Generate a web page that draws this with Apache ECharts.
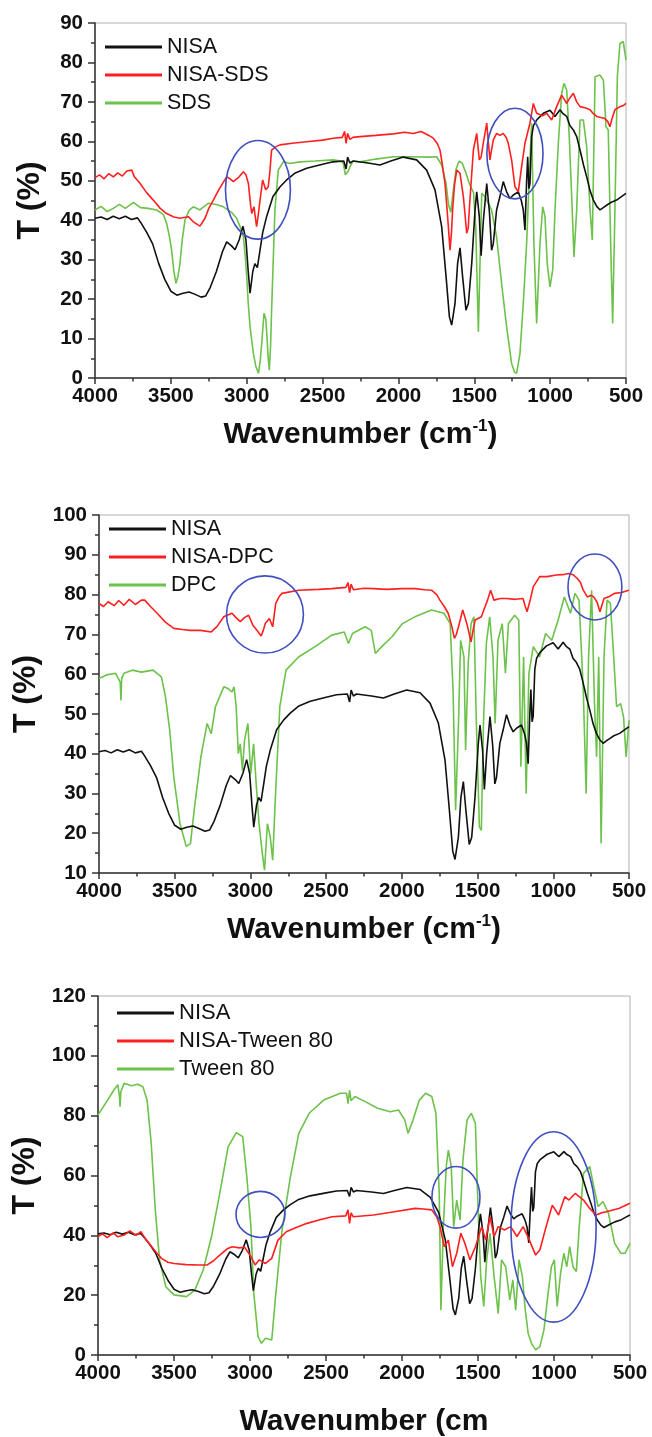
<!DOCTYPE html>
<html>
<head>
<meta charset="utf-8">
<script src="https://cdn.jsdelivr.net/npm/echarts@6/dist/echarts.min.js"></script>
<style>
html,body{margin:0;padding:0;background:#fff;}
#c{width:652px;height:1437px;}
</style>
</head>
<body>
<div id="c"></div>
<script>
// ---------------- DATA (wavenumber cm-1, transmittance %) ----------------
var nisa = [[4000,40.5],[3960,40.8],[3920,40.2],[3880,41],[3840,40.4],[3800,41],[3760,40.2],[3720,40.6],[3700,39.5],[3660,37],[3620,34],[3580,29],[3540,25],[3500,22],[3460,21],[3420,21.5],[3380,21.8],[3340,21.2],[3300,20.5],[3270,20.8],[3240,23],[3200,27],[3160,32],[3132,34.5],[3100,33.5],[3077,32.5],[3050,35],[3025,38.5],[3005,35],[2990,27],[2978,21.5],[2960,27],[2946,29],[2930,28],[2910,33],[2895,36.8],[2869,40.9],[2827,46],[2780,48.5],[2737,50.2],[2680,52],[2605,53.2],[2500,54.2],[2431,54.8],[2360,55],[2345,53],[2335,56],[2320,54.5],[2300,55],[2200,54.5],[2122,54],[2050,55],[1968,56],[1880,55.3],[1814,52.7],[1759,47.7],[1715,38.4],[1686,25.7],[1664,15.5],[1649,13.4],[1627,18.9],[1610,29],[1594,33],[1577,25.7],[1555,17.2],[1539,18.9],[1517,29],[1495,42.6],[1484,47.2],[1467,40.9],[1455,31],[1440,40],[1418,49.3],[1400,42],[1386,32.4],[1375,34],[1353,42.6],[1331,46],[1309,49.8],[1287,47.2],[1265,45.5],[1243,46.4],[1210,47.2],[1190,45],[1177,42.6],[1166,37.5],[1155,50],[1148,56.1],[1140,48],[1133,49.3],[1122,61.2],[1110,64],[1089,65.4],[1045,67.1],[1001,67.9],[968,66.3],[935,68],[915,67],[891,66.3],[870,64],[847,62.9],[825,61.2],[803,57.8],[780,54],[759,51],[737,47.5],[715,45.1],[693,43.5],[671,42.6],[650,43.2],[628,43.8],[600,44.5],[562,45.1],[530,46],[500,46.8]];

var nisaSds = [[4000,50.8],[3970,51.5],[3940,50.5],[3910,51.8],[3879,51],[3850,52],[3820,51.2],[3790,52.5],[3758,52.7],[3740,51],[3703,49.3],[3660,47],[3616,45.1],[3570,43],[3528,41.7],[3480,40.8],[3440,40.5],[3385,40.9],[3352,39.6],[3308,38.5],[3275,40.5],[3250,43],[3220,45.1],[3180,48],[3132,51],[3110,50.5],[3088,49.8],[3050,51],[3022,52.3],[3005,51.5],[2989,49.3],[2975,44],[2967,41.7],[2952,43.4],[2935,38.4],[2925,41],[2912,45.1],[2895,50.2],[2875,47.7],[2858,48.5],[2848,52],[2836,57.8],[2810,58.6],[2781,59.1],[2700,59.5],[2605,59.9],[2500,60.3],[2429,60.8],[2370,61],[2355,62.5],[2345,59.5],[2335,62],[2320,60.5],[2300,61],[2253,61.2],[2150,61.5],[2034,61.9],[1960,62.3],[1902,62],[1850,62.5],[1800,61.5],[1770,60.8],[1745,59.5],[1726,57.8],[1710,54],[1693,49.3],[1680,43],[1671,38.4],[1660,32.4],[1650,37],[1643,42.6],[1630,49],[1616,52.7],[1594,51.9],[1572,46],[1560,41],[1550,36.7],[1540,38],[1533,42.6],[1520,50],[1506,57.8],[1484,62],[1467,55.3],[1455,56],[1441,59.5],[1418,64.6],[1397,55.3],[1375,60.3],[1353,62],[1330,61.5],[1309,62],[1290,61],[1276,59.5],[1254,55.3],[1232,48.5],[1210,47.2],[1188,53.6],[1166,59.5],[1133,64.6],[1111,69.6],[1089,67.1],[1050,66.5],[1023,67.1],[990,65.4],[957,68.8],[924,71.7],[891,69.6],[870,71],[847,72.2],[825,70],[803,68.8],[770,68.5],[737,68],[715,67],[693,66.3],[660,66],[639,65.8],[620,65],[606,63.7],[590,66],[573,68],[540,68.8],[520,69],[500,69.6]];

var sds = [[4000,42.6],[3960,43.5],[3920,42.2],[3879,43],[3840,44],[3800,43],[3747,44.5],[3700,43.2],[3650,43],[3594,42.6],[3550,41.5],[3528,39.2],[3510,36],[3495,32.4],[3480,27],[3466,24],[3452,26],[3440,29],[3425,35],[3407,40],[3380,42.5],[3352,43.4],[3308,42.6],[3280,43.5],[3253,44.3],[3200,44],[3154,43.4],[3100,42],[3066,40.5],[3040,38],[3022,35.8],[3010,31],[3000,25.7],[2990,19],[2978,13],[2965,9],[2956,6.2],[2940,3],[2923,1.2],[2912,4],[2901,8.8],[2886,16.4],[2875,15],[2869,12.2],[2860,6],[2851,2],[2843,8],[2836,17.2],[2825,30],[2814,42.6],[2800,49],[2792,52.7],[2759,54.8],[2715,54.4],[2649,54.8],[2550,55],[2429,55.3],[2380,55],[2363,54.4],[2350,51.5],[2341,51],[2330,52.5],[2319,53.6],[2300,55],[2253,54.8],[2150,55.5],[2034,56.1],[1924,56.1],[1800,56],[1748,56.1],[1715,54],[1686,49.3],[1670,44],[1655,42],[1640,47],[1620,53],[1600,55],[1580,54.5],[1555,52],[1530,49],[1505,47],[1490,38],[1480,22],[1473,11.7],[1465,25],[1451,46.8],[1430,46],[1386,42.6],[1353,35.8],[1320,24],[1287,13],[1254,3.7],[1235,1.5],[1221,1.2],[1199,6.2],[1177,18.9],[1155,34.1],[1133,55.3],[1122,64.6],[1107,34.1],[1089,13.8],[1067,34.1],[1049,43.4],[1034,40.9],[1019,29],[1001,23.1],[983,27.4],[968,42.6],[946,59.5],[924,72.2],[909,74.7],[891,73],[874,61.2],[858,46],[843,30.7],[825,42.6],[803,65.4],[781,65.4],[759,58.6],[737,42.6],[722,35],[704,76.4],[671,76.8],[649,75.5],[632,63.7],[617,62.9],[601,34.1],[588,13.8],[573,42.6],[557,76.4],[540,84.8],[518,85.3],[500,80.6]];

var nisaDpc = [[4000,77.8],[3970,77],[3940,78.2],[3900,77.2],[3870,78.5],[3835,77.3],[3800,78.8],[3760,77.5],[3720,78.6],[3698,78.6],[3660,77],[3616,75.3],[3560,73],[3506,71.5],[3450,71.2],[3396,71],[3330,71],[3259,70.6],[3220,72],[3176,74.4],[3122,75.3],[3095,74.2],[3067,73.2],[3040,74.2],[3012,74.8],[2984,72.3],[2957,71],[2929,69.6],[2915,71],[2902,72.7],[2875,74],[2853,71.9],[2833,77.8],[2810,79.5],[2792,80.3],[2682,81.1],[2550,81.3],[2463,81.5],[2370,81.8],[2355,83],[2345,80.5],[2335,82.6],[2320,81.2],[2250,81.6],[2188,81.5],[2100,81.3],[2000,81.5],[1914,81.5],[1850,81.2],[1804,81.1],[1770,80],[1749,78.6],[1720,77],[1694,75.3],[1670,72],[1653,69],[1640,70],[1626,71.9],[1598,76.1],[1571,72.7],[1543,68.1],[1530,71],[1516,73.6],[1475,74.4],[1450,77],[1434,78.6],[1414,81.1],[1392,78.6],[1350,79],[1310,79],[1250,78.8],[1200,79],[1185,77],[1173,75.7],[1150,79],[1132,82],[1090,84.5],[1040,84.5],[980,84.9],[940,85],[898,85.3],[870,85],[843,84.1],[820,83],[802,81.1],[775,79.4],[750,79.8],[733,79.4],[710,78],[692,75.7],[665,79],[630,79.5],[596,80.3],[550,80.5],[500,81.1]];

var dpc = [[4000,58.9],[3950,59.8],[3890,60.2],[3860,58],[3855,53.4],[3850,59],[3835,60.2],[3780,61],[3720,60.5],[3643,61],[3588,59.3],[3561,54.3],[3533,45.9],[3506,34.1],[3465,22.4],[3424,16.7],[3396,17.4],[3369,26.6],[3327,39.2],[3286,47.6],[3259,45],[3231,51.8],[3176,56.8],[3149,56.4],[3122,55.5],[3108,56.8],[3094,51.8],[3080,40],[3067,42.5],[3053,35.8],[3039,43.4],[3017,47.6],[2998,35],[2979,42.5],[2962,32.4],[2943,22.4],[2924,15.7],[2907,10.7],[2888,22.4],[2869,19],[2853,13.2],[2833,30.8],[2806,51.8],[2765,61],[2682,64.3],[2573,66.9],[2463,69.8],[2380,70.6],[2353,67.7],[2326,70.2],[2243,71.9],[2202,71],[2175,65.2],[2133,66.9],[2065,69.4],[1996,72.7],[1914,74.4],[1804,76.1],[1722,75.3],[1681,72.7],[1662,56],[1645,25.8],[1626,47.6],[1612,68.5],[1590,64.3],[1579,40.9],[1562,62.7],[1543,72.7],[1524,74.4],[1508,47.6],[1488,21.6],[1475,20.7],[1461,47.6],[1442,67.7],[1420,74.4],[1398,64.3],[1384,47.6],[1365,68.5],[1337,72.7],[1316,60.2],[1296,72.7],[1255,74.8],[1228,73.6],[1214,36.7],[1196,64.3],[1179,30],[1161,60.2],[1132,66.9],[1090,64.3],[1051,70.2],[1010,68.5],[968,73.6],[927,79.4],[886,75.3],[857,80.3],[830,78.6],[802,56],[783,30],[767,64.3],[747,81.1],[728,52.6],[714,39.2],[700,64.3],[684,17.4],[665,64.3],[645,78.6],[623,77.8],[601,64.3],[582,51.8],[555,52.6],[536,49.2],[519,39.2],[500,48.4]];

var nisaTween = [[4000,39.6],[3970,40.5],[3940,39.2],[3900,40.8],[3870,39.5],[3828,40.1],[3790,41.5],[3750,40],[3718,41.2],[3690,39],[3664,37.3],[3620,34.5],[3582,32.3],[3540,31],[3500,30.6],[3420,30.2],[3336,30.1],[3281,30.1],[3240,31.5],[3199,33.4],[3150,35.5],[3117,36.2],[3070,35.8],[3035,36],[2994,32.9],[2966,30.1],[2939,31.8],[2898,30.6],[2857,32.3],[2816,38.4],[2761,41.2],[2700,42.5],[2625,44],[2540,45.2],[2460,46.2],[2370,46.5],[2355,48.5],[2345,44],[2335,47.5],[2320,46.2],[2187,46.8],[2050,47.9],[1914,49],[1860,48.8],[1804,48.5],[1770,46],[1750,42.9],[1722,36.2],[1695,38.4],[1668,29.5],[1640,34],[1613,40.7],[1586,37.3],[1553,31.8],[1517,36.2],[1476,42.9],[1449,38.4],[1421,46.2],[1394,39.6],[1367,42.9],[1326,41.8],[1285,42.9],[1244,39.6],[1203,42.9],[1162,38.4],[1121,33.4],[1093,35.1],[1052,42.9],[1011,50.1],[970,46.8],[929,52.9],[902,51.8],[861,54],[834,52.9],[806,51.8],[765,49],[724,46.8],[690,47.5],[656,47.9],[574,49],[500,50.7]];

var tween = [[4000,80.2],[3937,85.2],[3890,89],[3869,90.3],[3858,86],[3855,83],[3850,88],[3828,90.8],[3780,90],[3740,90.5],[3705,89.7],[3677,85.2],[3650,70.8],[3623,48.5],[3595,31.8],[3554,22.8],[3500,20.1],[3418,19.5],[3363,21.7],[3308,28.4],[3253,39.6],[3199,54],[3144,69.6],[3090,74.3],[3048,73],[3021,59.6],[2994,42.9],[2975,20.6],[2947,6.1],[2925,3.9],[2898,5.6],[2857,5],[2830,20.6],[2789,41.8],[2734,59.6],[2679,74.1],[2611,80.8],[2515,85.2],[2406,87.5],[2365,87.5],[2355,84],[2345,88.5],[2335,85],[2310,86.4],[2242,84.7],[2160,82.5],[2078,81.3],[2023,81.9],[1982,78.6],[1960,74.1],[1927,78.6],[1886,85.2],[1845,87.5],[1804,86.4],[1777,80.8],[1755,54],[1744,15],[1728,42.9],[1709,63],[1695,68.5],[1676,63],[1660,42.9],[1640,51.8],[1618,45.1],[1599,65.2],[1572,78.6],[1544,80.8],[1517,77.4],[1503,54],[1482,26.2],[1462,16.2],[1443,31.8],[1421,40.7],[1394,26.2],[1367,13.9],[1345,31.8],[1318,29.5],[1291,18.4],[1271,25.1],[1252,15],[1230,31.8],[1208,26.2],[1189,15],[1170,7.2],[1148,3.9],[1121,1.7],[1093,2.8],[1066,8.4],[1039,20.6],[1017,29.5],[998,31.8],[979,16.2],[957,27.3],[935,34],[916,29.5],[897,36.2],[875,29.5],[853,27.9],[834,42.9],[806,60.7],[765,63],[738,56.3],[710,49.6],[678,51.3],[642,47.4],[601,37.3],[560,34],[533,34],[500,37.3]];

// blue annotation ellipses: [centre wavenumber, centre T, half-width (cm-1), half-height (T)]
var circles1 = [[2926,47.7,214,12.5],[1232,56.9,185,11.5]];
var circles2 = [[2904,75,254,9.7],[725,81.9,178,8.3]];
var circles3 = [[2931,47,161,7.7],[1645,52.7,158,10.3],[1003,42.8,280,31.8]];

var legend1 = ['NISA','NISA-SDS','SDS'];
var legend2 = ['NISA','NISA-DPC','DPC'];
var legend3 = ['NISA','NISA-Tween 80','Tween 80'];
var yRange1 = [0, 90, 10];
var yRange2 = [10, 100, 10];
var yRange3 = [0, 120, 20];
var xRange = [500, 4000, 500];

// ---------------- CHART ----------------
var FONT = '"Liberation Sans", Arial, Helvetica, sans-serif';
var BLACK = '#111111', RED = '#ff1f1f', GREEN = '#6cc24a', BLUE = '#3f4fbf';

var grids = [
  {left: 95, top: 23, width: 531, height: 355},
  {left: 99, top: 515, width: 530, height: 358},
  {left: 98, top: 996, width: 532, height: 359}
];
var xNames = ['Wavenumber (cm{sup|-1})', 'Wavenumber (cm{sup|-1})', 'Wavenumber (cm'];
var xNameGaps = [40, 40, 50];
var yRanges = [yRange1, yRange2, yRange3];
var legends = [legend1, legend2, legend3];
var legendPos = [{left: 105, top: 33, fs: 21.5}, {left: 109, top: 515, fs: 21.5}, {left: 117, top: 999, fs: 22}];

function plain(v) { return String(v); }

function xAxisDef(i) {
  return {
    gridIndex: i, type: 'value', inverse: true,
    min: xRange[0], max: xRange[1], interval: xRange[2],
    name: xNames[i], nameLocation: 'middle', nameGap: xNameGaps[i],
    nameTextStyle: {
      fontFamily: FONT, fontWeight: 'bold', fontSize: 30, color: BLACK, lineHeight: 34,
      rich: {sup: {fontFamily: FONT, fontWeight: 'bold', fontSize: 17, color: BLACK, verticalAlign: 'top', lineHeight: 16}}
    },
    axisLine: {show: true, onZero: false, lineStyle: {color: '#333', width: 1.5}},
    axisTick: {show: true, length: 6, lineStyle: {color: '#333', width: 1.5}},
    minorTick: {show: true, splitNumber: 2, length: 3.5, lineStyle: {color: '#333', width: 1.5}},
    splitLine: {show: false},
    axisLabel: {show: true, formatter: plain, showMinLabel: true, showMaxLabel: true, margin: 8, fontFamily: FONT, fontWeight: 'bold', fontSize: 20.5, color: BLACK}
  };
}
function yAxisDef(i) {
  var r = yRanges[i];
  return {
    gridIndex: i, type: 'value', min: r[0], max: r[1], interval: r[2],
    name: 'T (%)', nameLocation: 'middle', nameGap: 49,
    nameTextStyle: {fontFamily: FONT, fontWeight: 'bold', fontSize: 32, color: BLACK},
    axisLine: {show: true, onZero: false, lineStyle: {color: '#333', width: 1.5}},
    axisTick: {show: true, length: 7, lineStyle: {color: '#333', width: 1.5}},
    minorTick: {show: true, splitNumber: 2, length: 4, lineStyle: {color: '#333', width: 1.5}},
    splitLine: {show: false},
    axisLabel: {show: true, formatter: plain, showMinLabel: true, showMaxLabel: true, margin: 12, fontFamily: FONT, fontWeight: 'bold', fontSize: 20.5, color: BLACK}
  };
}
function lineSeries(name, data, color, i) {
  return {
    name: name, type: 'line', data: data, xAxisIndex: i, yAxisIndex: i,
    showSymbol: false, symbol: 'none', smooth: false, z: color === BLACK ? 3 : (color === RED ? 4 : 2),
    lineStyle: {color: color, width: 1.6}, itemStyle: {color: color}
  };
}

var option = {
  animation: false,
  backgroundColor: '#fff',
  grid: grids.map(function (g) {
    return Object.assign({show: true, borderColor: '#b0b0b0', borderWidth: 1, containLabel: false, outerBoundsMode: 'none'}, g);
  }),
  xAxis: [0, 1, 2].map(xAxisDef),
  yAxis: [0, 1, 2].map(yAxisDef),
  legend: legends.map(function (names, i) {
    return {
      data: names, orient: 'vertical', left: legendPos[i].left, top: legendPos[i].top,
      itemWidth: 57, itemHeight: 3, itemGap: 0, icon: 'rect', padding: 0, selectedMode: false,
      textStyle: {fontFamily: FONT, fontSize: legendPos[i].fs, color: BLACK, lineHeight: 28}
    };
  }),
  series: [
    lineSeries('SDS', sds, GREEN, 0),
    lineSeries('NISA', nisa, BLACK, 0),
    lineSeries('NISA-SDS', nisaSds, RED, 0),
    lineSeries('DPC', dpc, GREEN, 1),
    lineSeries('NISA', nisa, BLACK, 1),
    lineSeries('NISA-DPC', nisaDpc, RED, 1),
    lineSeries('Tween 80', tween, GREEN, 2),
    lineSeries('NISA', nisa, BLACK, 2),
    lineSeries('NISA-Tween 80', nisaTween, RED, 2)
  ]
};

var chart = echarts.init(document.getElementById('c'), null, {renderer: 'canvas'});
chart.setOption(option);

// ellipses placed through the axes' scales
var ell = [];
[circles1, circles2, circles3].forEach(function (list, gi) {
  list.forEach(function (c) {
    var p = chart.convertToPixel({gridIndex: gi}, [c[0], c[1]]);
    var q = chart.convertToPixel({gridIndex: gi}, [c[0] - c[2], c[1] + c[3]]);
    ell.push({
      type: 'ellipse', z: 100, silent: true,
      shape: {cx: p[0], cy: p[1], rx: Math.abs(q[0] - p[0]), ry: Math.abs(q[1] - p[1])},
      style: {fill: 'none', stroke: BLUE, lineWidth: 1.6}
    });
  });
});
chart.setOption({graphic: ell});
</script>
</body>
</html>
